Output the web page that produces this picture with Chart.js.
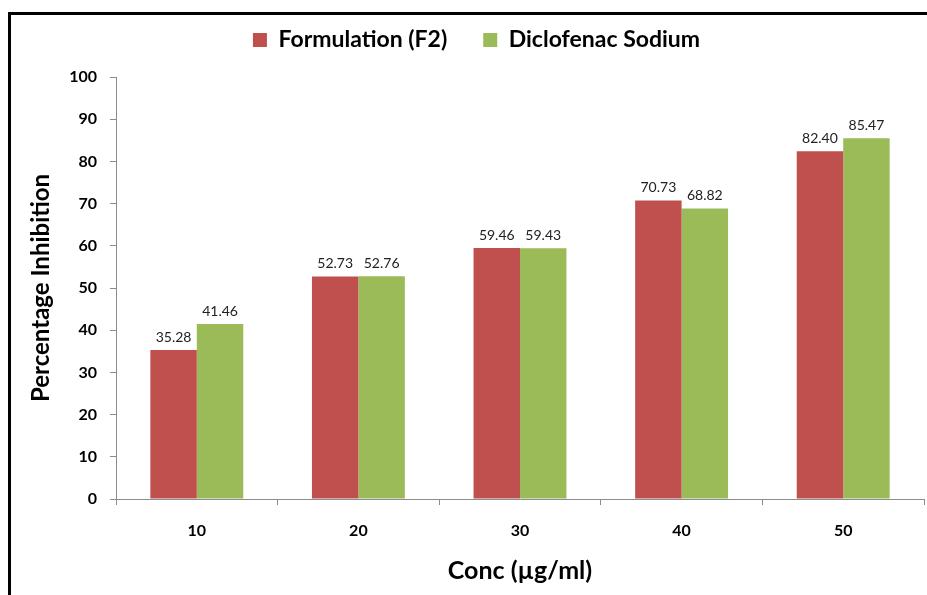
<!DOCTYPE html>
<html>
<head>
<meta charset="utf-8">
<script src="https://cdn.jsdelivr.net/npm/chart.js@4.4.1/dist/chart.umd.min.js"></script>
<style>
  html, body { margin: 0; padding: 0; background: #fff; }
  #wrap { position: relative; width: 927px; height: 595px; overflow: hidden; }
  #frame { position: absolute; left: 8px; top: 12px; width: 960px; height: 640px;
           border-left: 3px solid #000; border-top: 3px solid #000; pointer-events: none; }
</style>
</head>
<body>
<div id="wrap">
  <canvas id="chart" width="927" height="595"></canvas>
  <div id="frame"></div>
</div>
<script>
const concLabels = ["10", "20", "30", "40", "50"];
const formulationF2 = [35.28, 52.73, 59.46, 70.73, 82.40];
const diclofenac = [41.46, 52.76, 59.43, 68.82, 85.47];

const FONT = "Lato, 'Liberation Sans', sans-serif";
const axisGray = "#8c8c8c";

// value labels above each bar
const barValues = {
  id: "barValues",
  afterDatasetsDraw(chart) {
    const ctx = chart.ctx;
    ctx.save();
    ctx.font = "14px " + FONT;
    ctx.fillStyle = "#222";
    ctx.textAlign = "center";
    ctx.textBaseline = "bottom";
    chart.data.datasets.forEach((ds, i) => {
      chart.getDatasetMeta(i).data.forEach((bar, j) => {
        ctx.fillText(ds.data[j].toFixed(2), bar.x, bar.y - 6);
      });
    });
    ctx.restore();
  }
};

new Chart(document.getElementById("chart"), {
  type: "bar",
  data: {
    labels: concLabels,
    datasets: [
      { label: "Formulation (F2)", data: formulationF2, backgroundColor: "#C0504D" },
      { label: "Diclofenac Sodium", data: diclofenac, backgroundColor: "#9BBB59" }
    ]
  },
  options: {
    responsive: false,
    animation: false,
    events: [],
    layout: { padding: { left: 29, right: 3, top: -7.5, bottom: 0 } },
    datasets: { bar: { categoryPercentage: 0.575, barPercentage: 1.0 } },
    plugins: {
      legend: {
        position: "top",
        labels: {
          boxWidth: 14, boxHeight: 14, padding: 36, color: "#000",
          font: { family: FONT, size: 23, weight: "bold" }
        }
      },
      tooltip: { enabled: false }
    },
    scales: {
      spacer: {
        type: "category", position: "top", display: true,
        grid: { display: false }, border: { display: false }, ticks: { display: false },
        afterFit: s => { s.height = 15.5; }
      },
      x: {
        grid: { drawOnChartArea: false, color: axisGray, tickLength: 6 },
        border: { color: axisGray },
        ticks: { color: "#000", padding: 16, font: { family: FONT, size: 16, weight: "bold" } },
        title: { display: true, text: "Conc (µg/ml)", color: "#000", padding: { top: 0, bottom: 9 },
                 font: { family: FONT, size: 25, weight: "bold" } },
        afterFit: s => { s.height = 96; }
      },
      y: {
        min: 0, max: 100,
        grid: { drawOnChartArea: false, color: axisGray, tickLength: 6 },
        border: { color: axisGray },
        ticks: { stepSize: 10, color: "#000", padding: 13, font: { family: FONT, size: 16, weight: "bold" } },
        title: { display: true, text: "Percentage Inhibition", color: "#000", padding: { top: -2, bottom: 0 },
                 font: { family: FONT, size: 24, weight: "bold" } },
        afterFit: s => { s.width = 87; }
      }
    }
  },
  plugins: [barValues]
});
</script>
</body>
</html>
